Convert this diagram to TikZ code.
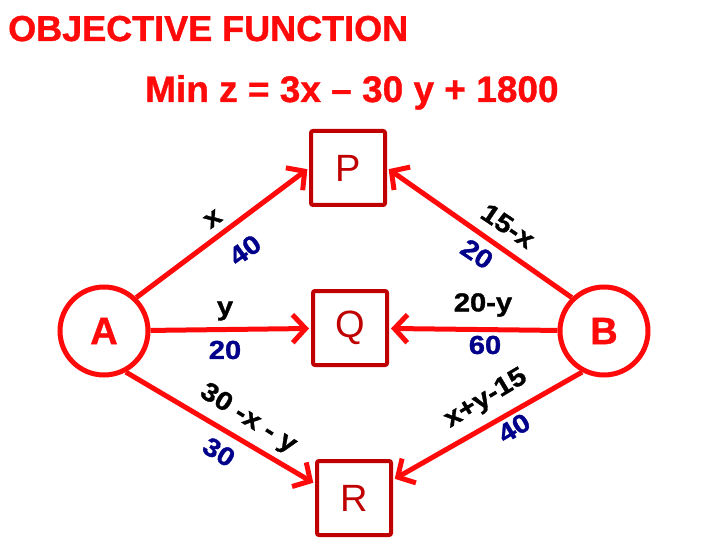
\documentclass[tikz,border=0pt]{standalone}
\usepackage{fontspec}
\setmainfont{Liberation Sans}
\newfontfamily\heavyfont[FakeStretch=1.12, FakeBold=1.2]{Liberation Sans Bold}
\newfontfamily\headfont[FakeBold=1]{Liberation Sans Bold}
\usepackage{xcolor}
\usepackage{tikz}
\usetikzlibrary{arrows.meta}
\definecolor{ofred}{HTML}{FF0A0A}
\definecolor{ofdark}{HTML}{C00000}
\definecolor{ofnavy}{HTML}{00008B}

\begin{document}
\begin{tikzpicture}[x=1pt, y=-1pt,
  plant/.style={draw=ofred, line width=5pt, circle, minimum size=88pt, inner sep=0pt, text=ofred, font=\headfont\fontsize{38}{38}\selectfont},
  depot/.style={draw=ofdark, line width=4pt, minimum size=74pt, inner sep=0pt, rounded corners=2pt, text=ofdark, font=\fontsize{38}{38}\selectfont},
  flow/.style={draw=ofred, line width=5pt, shorten >=2pt, -{Straight Barb[length=13pt, width=28pt]}},
  qty/.style={inner sep=0pt, text=black, font=\heavyfont\fontsize{26}{26}\selectfont},
  cost/.style={inner sep=0pt, text=ofnavy, font=\heavyfont\fontsize{26}{26}\selectfont}]
  \path[use as bounding box] (0,0) rectangle (720,540);
  % heading
  \node[anchor=base west, inner sep=0pt, text=ofred, font=\headfont\fontsize{36}{36}\selectfont] (title) at (8,41) {OBJECTIVE FUNCTION};
  \node[anchor=base west, inner sep=0pt, text=ofred, font=\headfont\fontsize{37}{37}\selectfont] (goal) at (145,102) {Min z = 3x – 30 y + 1800};
  % sources and destinations
  \node[plant] (A) at (104,331) {A};
  \node[plant] (B) at (604,331) {B};
  \node[depot] (P) at (348,168) {P};
  \node[depot] (Q) at (350,328) {Q};
  \node[depot] (R) at (354,498) {R};
  % routes
  \draw[flow] (A.46) -- (P.west);
  \draw[flow] (B.134) -- (P.east);
  \draw[flow] (A) -- (Q);
  \draw[flow] (B) -- (Q);
  \draw[flow] (A.-62) -- (R.160);
  \draw[flow] (B.-118) -- (R.25);
  % amounts and unit costs
  \node[qty, rotate=36] (xap) at (213,219) {x};
  \node[cost, rotate=36] (cap) at (245,250) {40};
  \node[qty, rotate=-34] (xbp) at (508,226) {15-x};
  \node[cost, rotate=-34] (cbp) at (477,254) {20};
  \node[qty] (xaq) at (225,311) {y};
  \node[cost] (caq) at (225,350) {20};
  \node[qty] (xbq) at (483,305) {20-y};
  \node[cost] (cbq) at (485,345) {60};
  \node[qty, rotate=-32] (xar) at (248,419) {30 -x - y};
  \node[cost, rotate=-32] (car) at (219,452) {30};
  \node[qty, rotate=31] (xbr) at (486,399) {x+y-15};
  \node[cost, rotate=31] (cbr) at (514,428) {40};
\end{tikzpicture}
\end{document}
